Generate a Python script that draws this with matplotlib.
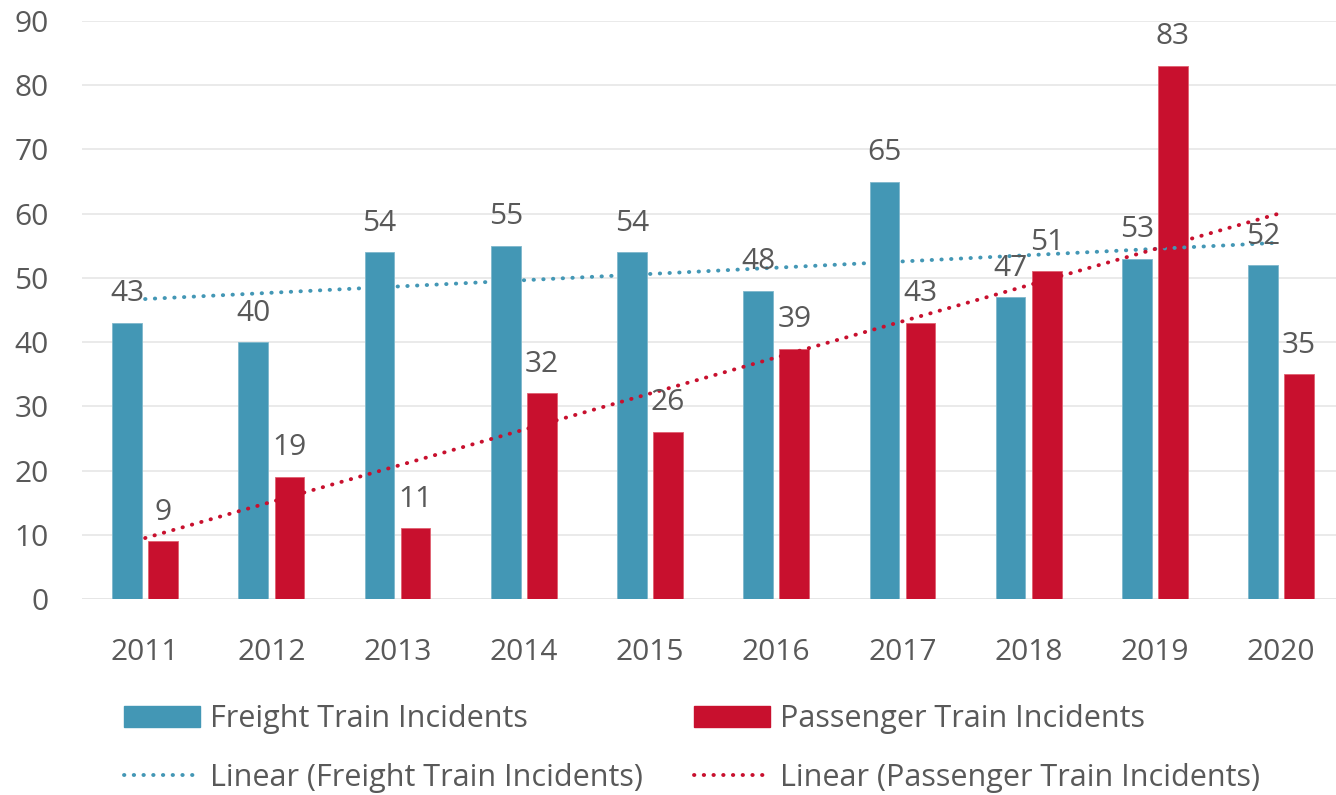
import numpy as np
import matplotlib
matplotlib.use("Agg")
import matplotlib.pyplot as plt
from matplotlib.lines import Line2D
from matplotlib.patches import Patch

plt.rcParams['font.family'] = ['Open Sans', 'DejaVu Sans']

years = ['2011', '2012', '2013', '2014', '2015', '2016', '2017', '2018', '2019', '2020']
freight = [43, 40, 54, 55, 54, 48, 65, 47, 53, 52]
passenger = [9, 19, 11, 32, 26, 39, 43, 51, 83, 35]

c_fr = '#4397B5'
c_pa = '#C8102E'
txt = '#595959'
fs = 21.5
lfs = 22
dots = (0, (0.1, 2.4))
dlw = 2.8

W, H = 1336, 795
fig = plt.figure(figsize=(W / 100, H / 100), dpi=100)
ax_left, ax_right = 82, 1336
ax_top, ax_bot = 21, 599
ax = fig.add_axes([ax_left / W, (H - ax_bot) / H, (ax_right - ax_left) / W, (ax_bot - ax_top) / H])

x = np.arange(len(years))
bw = 0.235
off = 0.143
b1 = ax.bar(x - off, freight, bw, color=c_fr, edgecolor='#7fb8cc', linewidth=0.6, zorder=3)
b2 = ax.bar(x + off, passenger, bw, color=c_pa, edgecolor='#e06070', linewidth=0.6, zorder=3)

# linear trendlines
xf = x + 1
pf = np.polyfit(xf, freight, 1)
pp = np.polyfit(xf, passenger, 1)
ax.plot(x, np.polyval(pf, xf), color=c_fr, linestyle=dots, lw=dlw,
        dash_capstyle='round', zorder=4)
ax.plot(x, np.polyval(pp, xf), color=c_pa, linestyle=dots, lw=dlw,
        dash_capstyle='round', zorder=4)

for bars, vals in ((b1, freight), (b2, passenger)):
    for r, v in zip(bars, vals):
        ax.annotate(str(v), (r.get_x() + r.get_width() / 2, v), xytext=(0, 15.5),
                    textcoords='offset points', ha='center', va='baseline',
                    fontsize=fs, color=txt, zorder=5)

unit = (ax_right - ax_left) / ((1281 - 145) / 9)
ax.set_xlim(-0.5, -0.5 + unit)
ax.set_ylim(0, 90)
ax.set_yticks(np.arange(0, 91, 10))
ax.set_xticks(x)
ax.set_xticklabels(years)
ax.tick_params(axis='y', length=0, pad=24, labelsize=fs, labelcolor=txt)
ax.tick_params(axis='x', length=0, pad=28, labelsize=fs, labelcolor=txt)
ax.grid(axis='y', color='#E6E6E6', lw=1.2, zorder=0)
for s in ax.spines.values():
    s.set_visible(False)
ax.axhline(0, color='#E6E6E6', lw=1.2, zorder=1)

legkw = dict(loc='upper left', frameon=False, fontsize=lfs, labelcolor=txt, handlelength=2.5,
             handleheight=0.69, handletextpad=0.33, labelspacing=0.95, borderaxespad=0, borderpad=0)
fig.legend([Patch(color=c_fr), Line2D([], [], color=c_fr, linestyle=dots, lw=dlw, dash_capstyle='round')],
           ['Freight Train Incidents', 'Linear (Freight Train Incidents)'],
           bbox_to_anchor=(124 / W, 1 - 704 / H), **legkw)
fig.legend([Patch(color=c_pa), Line2D([], [], color=c_pa, linestyle=dots, lw=dlw, dash_capstyle='round')],
           ['Passenger Train Incidents', 'Linear (Passenger Train Incidents)'],
           bbox_to_anchor=(694 / W, 1 - 704 / H), **legkw)

fig.savefig('out.png', dpi=100)
